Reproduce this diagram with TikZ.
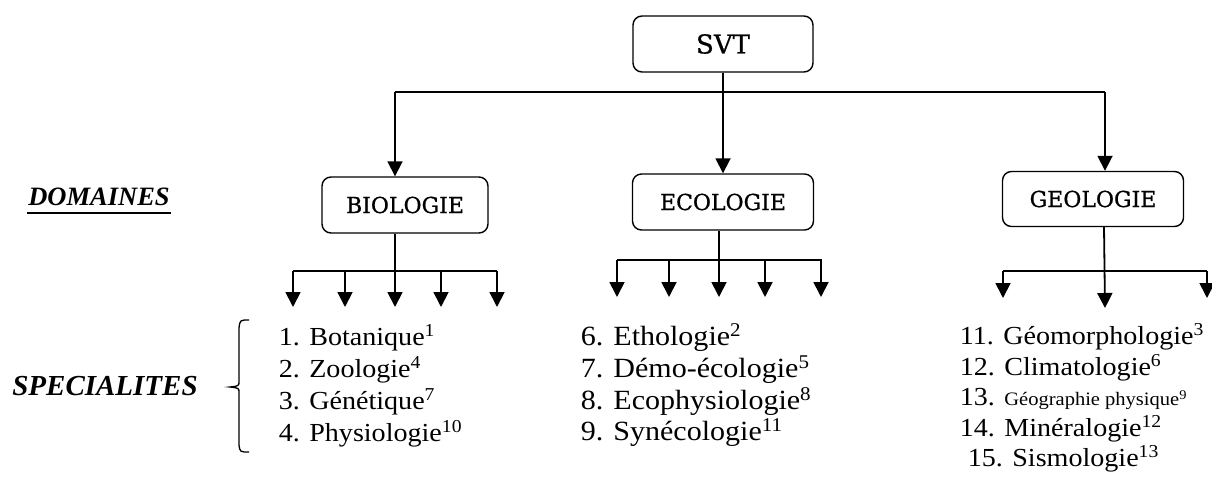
\documentclass[tikz,border=0pt]{standalone}
\usepackage{fontspec}
\setmainfont{Liberation Serif}[FakeStretch=1.08]
\newfontfamily\titlefont{Liberation Serif}
\newfontfamily\slabfont{DejaVu Serif}[FakeBold=0.8]
\usetikzlibrary{arrows.meta, positioning}

\begin{document}
\begin{tikzpicture}[x=1pt,y=-1pt,->,>={Triangle[width=15pt,length=15pt]},line width=1.8pt,
  main node/.style={rectangle,rounded corners=9pt,draw,line width=1.4pt,minimum height=56pt,font=\slabfont\fontsize{22}{24}\selectfont},
  list/.style={anchor=north west,align=left,inner sep=0pt,font=\fontsize{26}{31.7}\selectfont},
  side/.style={anchor=base,inner sep=0pt,font=\titlefont\bfseries\itshape\fontsize{28}{30}\selectfont}]
  \useasboundingbox (0,0) rectangle (1212,479);

  \node[main node, minimum width=180pt, font=\slabfont\fontsize{26}{28}\selectfont] (svt) at (723,44) {SVT};
  \node[main node, minimum width=166pt] (bio) at (405,205) {BIOLOGIE};
  \node[main node, minimum width=181pt] (eco) at (723,202) {ECOLOGIE};
  \node[main node, minimum width=181pt, minimum height=55pt] (geo) at (1093,199) {GEOLOGIE};

  \node[side, font=\titlefont\bfseries\itshape\fontsize{26.5}{30}\selectfont] (dom) at (99,205) {DOMAINES};
  \node[side, font=\titlefont\bfseries\itshape\fontsize{29}{30}\selectfont] (spe) at (105,395) {SPECIALITES};
  \draw[-, line width=2.4pt] ([yshift=-8pt]dom.base west) -- ([yshift=-8pt]dom.base east);

  % top level
  \coordinate (top) at (723,92);
  \coordinate (topl) at (395,92);
  \coordinate (topr) at (1105,92);
  \draw[-] (svt) -- (top);
  \draw[-, line width=1.4pt] (topl) -- (topr);
  \draw (topl) -- (topl |- bio.north);
  \draw (top) -- (eco.north);
  \draw (topr) -- (topr |- geo.north);

  % biologie
  \draw (bio.south -| topl) -- (395,307);
  \draw[-, line width=1.4pt] (293,271) -- (497,271);
  \foreach \x in {293,345,441,497}
    \draw (\x,271) -- (\x,307);

  % ecologie
  \draw (eco.south -| 719,0) -- (719,297);
  \draw[-, line width=1.4pt] (617,260) -- (822,260);
  \foreach \x in {617,669,765,821}
    \draw (\x,260) -- (\x,297);

  % geologie
  \draw (geo.south -| 1104,0) -- (1105,308);
  \draw[-, line width=1.4pt] (1003,271) -- (1207,271);
  \foreach \x in {1003,1207}
    \draw (\x,271) -- (\x,298);

  % brace
  \draw[-, line width=1.3pt] (249,320) .. controls (240,320) .. (239,328) -- (239,381)
    .. controls (239,386) .. (230,387) .. controls (239,388) .. (239,393) -- (239,445)
    .. controls (240,452) .. (249,452);

  \node[list] (biolist) at (278,324) {1. Botanique\textsuperscript{1}\\2. Zoologie\textsuperscript{4}\\3. Génétique\textsuperscript{7}\\4. Physiologie\textsuperscript{10}};
  \node[list, font=\fontsize{27.8}{31.7}\selectfont] (ecolist) at (580,323) {6. Ethologie\textsuperscript{2}\\7. Démo-écologie\textsuperscript{5}\\8. Ecophysiologie\textsuperscript{8}\\9. Synécologie\textsuperscript{11}};
  \node[list, font=\fontsize{26}{30.5}\selectfont] (geolist) at (959,323) {11. Géomorphologie\textsuperscript{3}\\12. Climatologie\textsuperscript{6}\\13. {\fontsize{19}{20}\selectfont Géographie physique\textsuperscript{9}}\\14. Minéralogie\textsuperscript{12}\\\hspace*{8pt}15. Sismologie\textsuperscript{13}};
\end{tikzpicture}
\end{document}
